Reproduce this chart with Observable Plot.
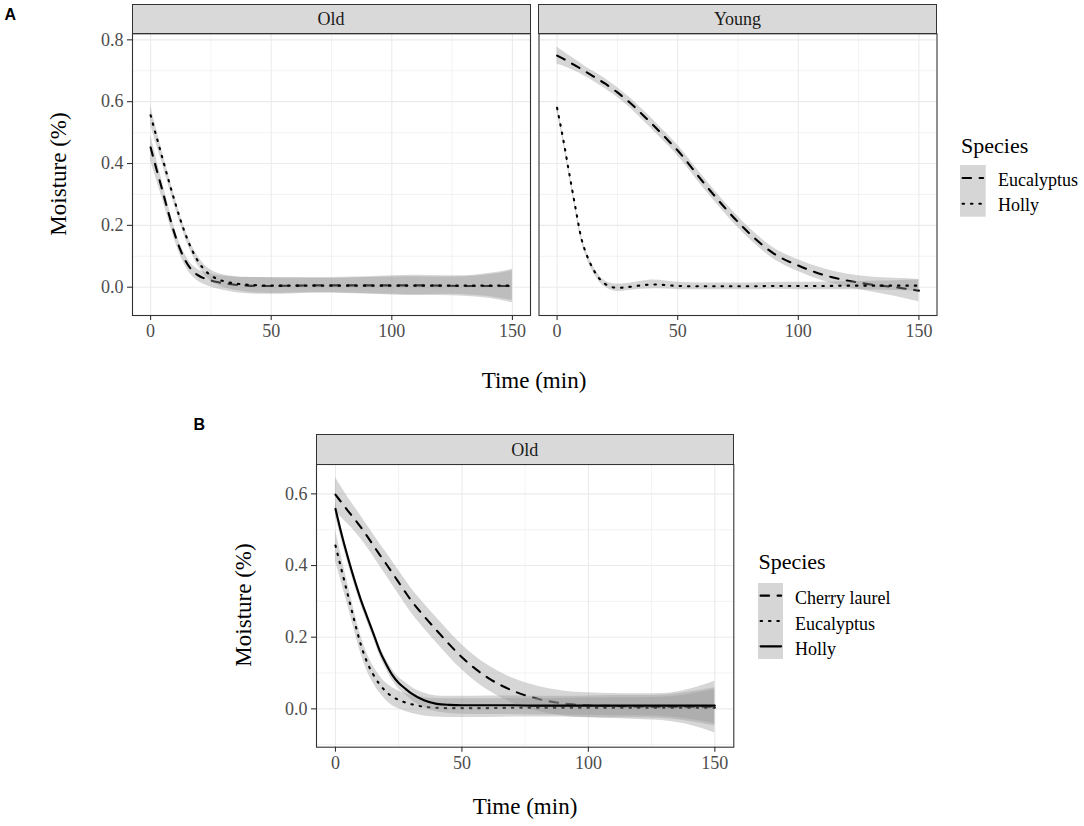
<!DOCTYPE html>
<html><head><meta charset="utf-8">
<script src="https://cdn.jsdelivr.net/npm/d3@7"></script>
<script src="https://cdn.jsdelivr.net/npm/@observablehq/plot@0.6"></script>
<style>
body{margin:0;background:#fff;}
#root{position:relative;width:1084px;height:826px;overflow:hidden;font-family:"Liberation Serif","Times New Roman",serif;background:#fff;}
.box{position:absolute;}
.strip{position:absolute;background:#d9d9d9;border:1px solid #333;box-sizing:border-box;display:flex;align-items:center;justify-content:center;font-size:18px;color:#1a1a1a;padding-top:2px;}
.lbl{position:absolute;white-space:nowrap;line-height:1;}
</style></head><body><div id="root"></div>
<script>
// ---- data ----
const time = [0, 2.5, 5, 7.5, 10, 12.5, 15, 17.5, 20, 22.5, 25, 27.5, 30, 35, 40, 45, 50, 60, 70, 80, 90, 100, 110, 120, 130, 140, 150];

const oldEucalyptusFit = [0.452, 0.380, 0.310, 0.238, 0.172, 0.118, 0.078, 0.052, 0.037, 0.028, 0.022, 0.017, 0.013, 0.008, 0.005, 0.004, 0.004, 0.005, 0.006, 0.006, 0.006, 0.006, 0.006, 0.005, 0.004, 0.004, 0.004];
const oldEucalyptusSE  = [0.042, 0.034, 0.027, 0.022, 0.019, 0.018, 0.018, 0.018, 0.019, 0.020, 0.021, 0.022, 0.023, 0.025, 0.026, 0.027, 0.027, 0.026, 0.025, 0.026, 0.028, 0.031, 0.033, 0.032, 0.033, 0.040, 0.054];
const oldHollyFit = [0.556, 0.485, 0.415, 0.345, 0.278, 0.215, 0.160, 0.115, 0.080, 0.055, 0.038, 0.027, 0.020, 0.012, 0.008, 0.006, 0.005, 0.005, 0.005, 0.005, 0.005, 0.005, 0.005, 0.005, 0.005, 0.005, 0.005];
const oldHollySE  = [0.032, 0.025, 0.020, 0.017, 0.015, 0.014, 0.014, 0.014, 0.015, 0.016, 0.018, 0.019, 0.020, 0.022, 0.024, 0.025, 0.025, 0.024, 0.023, 0.024, 0.026, 0.028, 0.029, 0.028, 0.029, 0.035, 0.048];

const youngEucalyptusFit = [0.749, 0.739, 0.728, 0.717, 0.706, 0.694, 0.682, 0.670, 0.658, 0.644, 0.630, 0.614, 0.598, 0.561, 0.523, 0.483, 0.442, 0.345, 0.253, 0.172, 0.108, 0.070, 0.041, 0.022, 0.009, 0.000, -0.011];
const youngEucalyptusSE  = [0.028, 0.024, 0.021, 0.019, 0.017, 0.016, 0.016, 0.016, 0.016, 0.016, 0.016, 0.016, 0.016, 0.017, 0.017, 0.017, 0.017, 0.018, 0.018, 0.018, 0.018, 0.019, 0.020, 0.021, 0.024, 0.029, 0.036];
const youngHollyFit = [0.580, 0.480, 0.370, 0.262, 0.160, 0.100, 0.058, 0.028, 0.010, 0.001, -0.002, -0.001, 0.001, 0.006, 0.009, 0.007, 0.004, 0.003, 0.003, 0.003, 0.004, 0.004, 0.004, 0.005, 0.005, 0.005, 0.005];
const youngHollySE  = [0.012, 0.011, 0.010, 0.010, 0.010, 0.010, 0.010, 0.010, 0.010, 0.011, 0.012, 0.012, 0.012, 0.013, 0.014, 0.013, 0.012, 0.011, 0.011, 0.011, 0.011, 0.012, 0.012, 0.013, 0.014, 0.016, 0.018];

const bCherryFit = [0.598, 0.575, 0.552, 0.530, 0.507, 0.482, 0.456, 0.430, 0.405, 0.379, 0.353, 0.327, 0.302, 0.259, 0.219, 0.180, 0.144, 0.088, 0.051, 0.028, 0.015, 0.010, 0.008, 0.006, 0.005, 0.005, 0.005];
const bCherrySE  = [0.048, 0.042, 0.037, 0.034, 0.032, 0.031, 0.031, 0.031, 0.032, 0.033, 0.033, 0.034, 0.034, 0.035, 0.035, 0.035, 0.035, 0.035, 0.035, 0.035, 0.035, 0.035, 0.035, 0.036, 0.038, 0.050, 0.072];
const bEucalyptusFit = [0.456, 0.385, 0.315, 0.245, 0.180, 0.130, 0.095, 0.068, 0.048, 0.034, 0.025, 0.018, 0.013, 0.006, 0.003, 0.002, 0.002, 0.002, 0.003, 0.003, 0.003, 0.003, 0.003, 0.003, 0.003, 0.003, 0.003];
const bEucalyptusSE  = [0.044, 0.036, 0.030, 0.027, 0.025, 0.024, 0.024, 0.024, 0.024, 0.025, 0.025, 0.025, 0.025, 0.026, 0.026, 0.026, 0.026, 0.026, 0.026, 0.026, 0.026, 0.027, 0.028, 0.028, 0.030, 0.038, 0.050];
const bHollyFit = [0.558, 0.485, 0.420, 0.360, 0.305, 0.257, 0.210, 0.162, 0.125, 0.094, 0.072, 0.057, 0.043, 0.024, 0.014, 0.011, 0.010, 0.010, 0.010, 0.009, 0.009, 0.009, 0.009, 0.009, 0.009, 0.009, 0.009];
const bHollySE  = [0.020, 0.017, 0.015, 0.014, 0.013, 0.013, 0.013, 0.013, 0.014, 0.015, 0.016, 0.017, 0.018, 0.020, 0.022, 0.024, 0.025, 0.026, 0.026, 0.026, 0.026, 0.027, 0.028, 0.028, 0.030, 0.038, 0.050];

const xTicks = [0, 50, 100, 150];
const xMinor = [25, 75, 125];
const yTicksA = [0, 0.2, 0.4, 0.6, 0.8];
const yMinorA = [0.1, 0.3, 0.5, 0.7];
const yTicksB = [0, 0.2, 0.4, 0.6];
const yMinorB = [-0.1, 0.1, 0.3, 0.5];
const speciesA = ["Eucalyptus", "Holly"];
const speciesB = ["Cherry laurel", "Eucalyptus", "Holly"];
const facetsA = ["Old", "Young"];
const facetsB = ["Old"];

// ---- styling ----
const DASHED = "8.5,8.5", DOTTED = "1.5,6.9", SOLID = null;
const LW = 2.1;
const FONT = "Liberation Serif";
const root = document.getElementById("root");

function rows(fit, se) {
  return time.map((t, i) => ({t, y: fit[i], lo: fit[i] - se[i], hi: fit[i] + se[i]}));
}

function smoothMarks(series) {
  const out = [];
  for (const s of series) {
    const d = rows(s.fit, s.se);
    out.push(Plot.areaY(d, {x: "t", y1: "lo", y2: "hi", fill: "#999999", fillOpacity: 0.4, curve: "monotone-x"}));
    const opt = {x: "t", y: "y", stroke: "black", strokeWidth: LW, curve: "monotone-x", strokeLinecap: "round", strokeLinejoin: "round"};
    if (s.dash) opt.strokeDasharray = s.dash;
    out.push(Plot.lineY(d, opt));
  }
  return out;
}

function panel({svgLeft, svgTop, svgW, svgH, fL, fR, fT, fB, yDomain, yTicks, yMinor, showY, series}) {
  const marks = [
    Plot.ruleX(xMinor, {stroke: "#ebebeb", strokeWidth: 0.6}),
    Plot.ruleY(yMinor, {stroke: "#ebebeb", strokeWidth: 0.6}),
    Plot.ruleX(xTicks, {stroke: "#ebebeb", strokeWidth: 1.1}),
    Plot.ruleY(yTicks, {stroke: "#ebebeb", strokeWidth: 1.1}),
    ...smoothMarks(series),
    Plot.frame({stroke: "#333333", strokeWidth: 1.1}),
    Plot.axisX(xTicks, {anchor: "bottom", tickSize: 5, tickPadding: 4, fontSize: 18, fontFamily: FONT, fill: "#4d4d4d", stroke: "#333333", strokeWidth: 1.1, label: null, tickFormat: d => String(d)})
  ];
  if (showY) marks.push(Plot.axisY(yTicks, {anchor: "left", tickSize: 5, tickPadding: 4, fontSize: 18, fontFamily: FONT, fill: "#4d4d4d", stroke: "#333333", strokeWidth: 1.1, label: null, tickFormat: d3.format(".1f")}));
  const p = Plot.plot({
    width: svgW, height: svgH,
    marginLeft: fL - svgLeft, marginRight: svgLeft + svgW - fR,
    marginTop: fT - svgTop, marginBottom: svgTop + svgH - fB,
    x: {domain: [-7.5, 157.5]},
    y: showY ? {domain: yDomain} : {domain: yDomain, axis: null},
    style: {fontFamily: FONT, background: "none", overflow: "visible", maxWidth: "none"},
    marks
  });
  const div = document.createElement("div");
  div.className = "box";
  div.style.left = svgLeft + "px"; div.style.top = svgTop + "px";
  div.appendChild(p);
  root.appendChild(div);
}

function strip(text, l, r, t, b) {
  const d = document.createElement("div");
  d.className = "strip";
  d.style.left = (l - 0.5) + "px"; d.style.top = (t - 0.5) + "px";
  d.style.width = (r - l + 1) + "px"; d.style.height = (b - t + 1) + "px";
  d.textContent = text;
  root.appendChild(d);
}

// text placed by baseline; line-height 1 => baseline at top + 0.8375em (serif)
function label(text, x, baseline, size, opts = {}) {
  const d = document.createElement("div");
  d.className = "lbl";
  d.textContent = text;
  d.style.fontSize = size + "px";
  const k = opts.sans ? 0.8465 : 0.8375;
  d.style.top = (baseline - k * size) + "px";
  if (opts.sans) { d.style.fontFamily = '"Liberation Sans", Arial, sans-serif'; d.style.fontWeight = "bold"; }
  if (opts.center) { d.style.left = x + "px"; d.style.transform = "translateX(-50%)"; }
  else d.style.left = x + "px";
  if (opts.color) d.style.color = opts.color;
  root.appendChild(d);
  return d;
}

function vlabel(text, cx, cy, size) {
  const d = document.createElement("div");
  d.className = "lbl";
  d.textContent = text;
  d.style.fontSize = size + "px";
  d.style.left = cx + "px"; d.style.top = cy + "px";
  d.style.transform = "translate(-50%,-50%) rotate(-90deg)";
  root.appendChild(d);
}

function legend(title, names, dashes, left, titleBase, keyTop, keyH, labelLeft, labelBases) {
  label(title, left + 0.7, titleBase, 22);
  const W = 25.7, H = keyH * names.length;
  const ns = "http://www.w3.org/2000/svg";
  const svg = document.createElementNS(ns, "svg");
  svg.setAttribute("width", W); svg.setAttribute("height", H);
  svg.style.position = "absolute"; svg.style.left = left + "px"; svg.style.top = keyTop + "px";
  const rect = document.createElementNS(ns, "rect");
  rect.setAttribute("width", W); rect.setAttribute("height", H);
  rect.setAttribute("fill", "#999999"); rect.setAttribute("fill-opacity", 0.4);
  svg.appendChild(rect);
  names.forEach((n, i) => {
    const ln = document.createElementNS(ns, "line");
    const cy = keyH * (i + 0.5);
    ln.setAttribute("x1", W * 0.1); ln.setAttribute("x2", W * 0.9);
    ln.setAttribute("y1", cy); ln.setAttribute("y2", cy);
    ln.setAttribute("stroke", "black"); ln.setAttribute("stroke-width", LW);
    ln.setAttribute("stroke-linecap", "round");
    if (dashes[i]) ln.setAttribute("stroke-dasharray", dashes[i]);
    svg.appendChild(ln);
    label(n, labelLeft, labelBases[i], 18);
  });
  root.appendChild(svg);
}

// ---- Panel A ----
const A = {fT: 33.3, fB: 315, yDomain: [-0.0915, 0.8195]};
panel({svgLeft: 80, svgTop: 0, svgW: 455, svgH: 350, fL: 132, fR: 530, fT: A.fT, fB: A.fB,
  yDomain: A.yDomain, yTicks: yTicksA, yMinor: yMinorA, showY: true,
  series: [{fit: oldEucalyptusFit, se: oldEucalyptusSE, dash: DASHED}, {fit: oldHollyFit, se: oldHollySE, dash: DOTTED}]});
panel({svgLeft: 535, svgTop: 0, svgW: 410, svgH: 350, fL: 538.5, fR: 936.5, fT: A.fT, fB: A.fB,
  yDomain: A.yDomain, yTicks: yTicksA, yMinor: yMinorA, showY: false,
  series: [{fit: youngEucalyptusFit, se: youngEucalyptusSE, dash: DASHED}, {fit: youngHollyFit, se: youngHollySE, dash: DOTTED}]});
strip(facetsA[0], 132, 530, 4, 33.3);
strip(facetsA[1], 538.5, 936.5, 4, 33.3);
label("A", 4.5, 20.5, 16, {sans: true});
label("Time (min)", 534, 388, 23, {center: true});
vlabel("Moisture (%)", 57.5, 174, 23);
legend("Species", speciesA, [DASHED, DOTTED], 960.3, 153, 165, 25.85, 998, [186, 211]);

// ---- Panel B ----
panel({svgLeft: 270, svgTop: 430, svgW: 480, svgH: 396, fL: 316, fR: 733.3, fT: 464, fB: 746.7,
  yDomain: [-0.107, 0.682], yTicks: yTicksB, yMinor: yMinorB, showY: true,
  series: [{fit: bCherryFit, se: bCherrySE, dash: DASHED}, {fit: bEucalyptusFit, se: bEucalyptusSE, dash: DOTTED}, {fit: bHollyFit, se: bHollySE, dash: SOLID}]});
strip(facetsB[0], 316, 733.3, 434, 464);
label("B", 193.5, 431, 16, {sans: true});
label("Time (min)", 525, 814, 23, {center: true});
vlabel("Moisture (%)", 243, 605, 23);
legend("Species", speciesB, [DASHED, DOTTED, SOLID], 757.7, 569, 583.3, 25.33, 795, [604, 630, 655]);
</script></body></html>
